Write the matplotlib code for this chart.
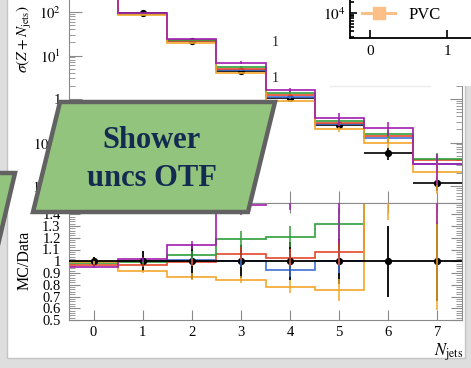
import numpy as np
import matplotlib
matplotlib.use("Agg")
import matplotlib.pyplot as plt
from matplotlib.patches import Polygon, Rectangle
from matplotlib.lines import Line2D
from matplotlib.ticker import LogLocator, NullFormatter, MultipleLocator

plt.rcParams['font.family'] = ['Liberation Serif', 'DejaVu Serif']
plt.rcParams['mathtext.fontset'] = 'stix'

# ---------------- data ----------------
njets = np.arange(8)
data = np.array([420, 97, 21, 4.5, 1.05, 0.25, 0.058, 0.0115])
data_err_rel = np.array([0.04, 0.085, 0.15, 0.14, 0.16, 0.19, 0.30, 0.34])

series_colors = {"purple": "#a21caf", "green": "#2f9e3a", "red": "#e5482b",
                 "blue": "#3f6fd8", "orange": "#f4a52a"}

mc_purple = np.array([400, 93, 23.5, 6.9, 1.6, 0.36, 0.22, 0.0325])
mc_green = np.array([410, 91, 22.4, 5.5, 1.39, 0.32, 0.153, 0.042])
mc_red = np.array([405, 90, 21.5, 5.0, 1.24, 0.28, 0.14, 0.039])
mc_blue = np.array([412, 90, 21.0, 4.6, 1.1, 0.26, 0.13, 0.0325])
mc_orange = np.array([415, 86, 19.0, 4.0, 0.9, 0.20, 0.10, 0.021])

r_purple = np.array([0.955, 1.015, 1.135, 1.48, 1.6, 1.7, 4.0, 4.0])
r_green = np.array([0.985, 0.99, 1.055, 1.19, 1.21, 1.32, 2.8, 3.8])
r_red = np.array([0.97, 0.965, 0.99, 1.064, 1.03, 1.075, 2.5, 3.5])
r_blue = np.array([0.99, 1.0, 1.01, 1.0, 0.927, 1.0, 2.4, 3.0])
r_orange = np.array([0.99, 0.913, 0.87, 0.842, 0.785, 0.756, 1.8, 1.9])

err_purple = np.array([0.01, 0.02, 0.03, 0.06, 0.10, 0.32, 0.35, 0.67])
err_green = np.array([0.01, 0.015, 0.03, 0.06, 0.075, 0.10, 0.25, 0.4])
err_red = np.array([0.01, 0.015, 0.03, 0.05, 0.07, 0.10, 0.25, 0.4])
err_blue = np.array([0.01, 0.015, 0.03, 0.05, 0.07, 0.10, 0.25, 0.4])
err_orange = np.array([0.01, 0.015, 0.03, 0.035, 0.075, 0.12, 0.25, 0.69])

mc_vals = {"purple": mc_purple, "green": mc_green, "red": mc_red,
           "blue": mc_blue, "orange": mc_orange}
ratio_vals = {"purple": r_purple, "green": r_green, "red": r_red,
              "blue": r_blue, "orange": r_orange}
mc_errs = {"purple": err_purple, "green": err_green, "red": err_red,
           "blue": err_blue, "orange": err_orange}
draw_order = ["blue", "red", "green", "orange", "purple"]

upper_ticks = [1e-2, 1e-1, 1, 1e1, 1e2]
upper_ticklabels = [r"$10^{-2}$", r"$10^{-1}$", "1", r"$10^{1}$", r"$10^{2}$"]
ratio_ticks = [0.5, 0.6, 0.7, 0.8, 0.9, 1.0, 1.1, 1.2, 1.3, 1.4, 1.5]
ratio_ticklabels = ["0.5", "0.6", "0.7", "0.8", "0.9", "1", "1.1", "1.2", "1.3", "1.4", "1.5"]
box_lines = ["Shower", "uncs OTF"]
legend_label = "PVC"

# ---------------- layout helpers ----------------
W, H = 471, 368
fig = plt.figure(figsize=(W / 100, H / 100), dpi=100)
fig.patch.set_facecolor("#dedede")

def fx(x):
    return x / W

def fy(y):
    return 1 - y / H

# background card
bg = fig.add_axes([0, 0, 1, 1], zorder=0)
bg.set_xlim(0, W); bg.set_ylim(H, 0); bg.axis("off")
bg.add_patch(Rectangle((7, -20), 458, 378, facecolor="white", edgecolor="#c4c4c4", lw=1.0))

edges = np.append(njets - 0.5, njets[-1] + 0.5)
gray = "#8a8a8a"

# ---------------- upper panel ----------------
dec = 43.5
ax = fig.add_axes([fx(69), fy(202.5), (462 - 69) / W, (202.5 + 30) / H], zorder=2)
ax.set_yscale("log")
ax.set_xlim(-0.5, 7.5)
ax.set_ylim(10 ** (2 - (202.5 - 12) / dec), 10 ** (2 + 42 / dec))
ax.errorbar(njets, data, xerr=0.5, yerr=data * data_err_rel, fmt="o", color="black",
            ms=4.2, lw=1.2, capsize=0, zorder=2.5)
for name in draw_order:
    c = series_colors[name]
    ax.stairs(mc_vals[name], edges, baseline=None, color=c, lw=1.2, zorder=3)
    v, e = mc_vals[name], mc_errs[name]
    ax.vlines(njets, v * np.clip(1 - e, 0.05, None), v * (1 + e), color=c, lw=1.1, zorder=3.5)
ax.set_yticks(upper_ticks)
ax.set_yticklabels(upper_ticklabels, fontsize=10.5)
ax.yaxis.set_minor_locator(LogLocator(base=10, subs=np.arange(2, 10)))
ax.yaxis.set_minor_formatter(NullFormatter())
ax.set_xticks(njets)
ax.tick_params(axis="x", labelbottom=False)
ax.tick_params(which="both", direction="in", top=True, right=True, color=gray)
ax.tick_params(axis="y", which="major", length=9, pad=6)
ax.tick_params(axis="y", which="minor", length=4.5)
ax.tick_params(axis="x", which="major", length=9)
for s in ax.spines.values():
    s.set_color(gray)

# ---------------- ratio panel ----------------
rx = fig.add_axes([fx(69), fy(320), (462 - 69) / W, (320 - 202.5) / H], zorder=2)
rx.set_xlim(-0.5, 7.5)
rx.set_ylim(0.5, 1.5)
for name in draw_order:
    rx.stairs(ratio_vals[name], edges, baseline=None, color=series_colors[name], lw=1.2, zorder=2)
rx.errorbar(njets, np.ones_like(data), xerr=0.5, yerr=data_err_rel, fmt="o", color="black",
            ms=4.2, lw=1.3, capsize=0, zorder=3)
for name in draw_order:
    r, e = ratio_vals[name], mc_errs[name]
    rx.vlines(njets, r * (1 - e), r * (1 + e), color=series_colors[name], lw=1.1, zorder=4)
rx.set_yticks(ratio_ticks)
rx.set_yticklabels(ratio_ticklabels, fontsize=10.5)
rx.yaxis.set_minor_locator(MultipleLocator(0.02))
rx.set_xticks(njets)
rx.set_xticklabels([str(n) for n in njets], fontsize=10.5)
rx.tick_params(which="both", direction="in", top=True, right=True, color=gray)
rx.tick_params(axis="y", which="major", length=8, pad=6)
rx.tick_params(axis="y", which="minor", length=4)
rx.tick_params(axis="x", which="major", length=7, pad=4)
for s in rx.spines.values():
    s.set_color(gray)

fig.text(fx(25), fy(260), "MC/Data", rotation=90, ha="center", va="center", fontsize=11.5)
fig.text(fx(463), fy(352), r"$N_{\mathrm{jets}}$", ha="right", va="center", fontsize=12)
fig.text(fx(25), fy(73), r"$\sigma(Z + N_{\mathrm{jets}})$", rotation=90,
         ha="center", va="bottom", fontsize=11)

# ---------------- overlays ----------------
ov = fig.add_axes([0, 0, 1, 1], zorder=5)
ov.set_xlim(0, W); ov.set_ylim(H, 0); ov.axis("off")
ov.patch.set_alpha(0)
ov.add_patch(Rectangle((282, -5), 200, 91, facecolor="white", edgecolor="none"))
ov.plot([330, 430], [86, 86], color="#ececec", lw=1)
ov.text(275, 42, "1", fontsize=10, ha="center", va="center", color="#222222")
ov.text(275, 78, "1", fontsize=10, ha="center", va="center", color="#222222")

green_fill = "#93c47d"
border = "#626262"
ov.add_patch(Polygon([(60, 102), (275, 102), (248, 212), (33, 212)], closed=True,
                     facecolor=green_fill, edgecolor=border, lw=3.2, joinstyle="miter"))
ov.add_patch(Polygon([(-40, 173), (15, 173), (-2, 245), (-40, 245)], closed=True,
                     facecolor=green_fill, edgecolor=border, lw=3.2, joinstyle="miter"))
ov.text(152, 141, box_lines[0], fontsize=22, fontweight="bold", color="#132b50",
        ha="center", va="center")
ov.text(152, 179, box_lines[1], fontsize=22, fontweight="bold", color="#132b50",
        ha="center", va="center")

# ---------------- inset ----------------
ins = fig.add_axes([fx(350), fy(38), (490 - 350) / W, (38 + 20) / H], zorder=6)
ins.patch.set_alpha(0)
ins.set_yscale("log")
idec = 35
ins.set_xlim(-20 / 77, 120 / 77)
ins.set_ylim(10 ** (4 - 25 / idec), 10 ** (4 + 33 / idec))
ins.set_xticks([0, 1])
ins.set_xticklabels(["0", "1"], fontsize=11)
ins.set_yticks([1e4])
ins.set_yticklabels([r"$10^{4}$"], fontsize=11)
ins.yaxis.set_minor_locator(LogLocator(base=10, subs=np.arange(2, 10)))
ins.yaxis.set_minor_formatter(NullFormatter())
ins.tick_params(which="both", direction="in", color="black", width=1.2)
ins.tick_params(axis="x", length=6, pad=5)
ins.tick_params(axis="y", which="major", length=5, pad=3)
ins.tick_params(axis="y", which="minor", length=3)
for k in ["top", "right"]:
    ins.spines[k].set_visible(False)
for k in ["left", "bottom"]:
    ins.spines[k].set_color("black")
    ins.spines[k].set_linewidth(1.3)
handle = Line2D([], [], color="#fdbf88", marker="s", markersize=8.5, lw=2.2)
ins.legend([handle], [legend_label], loc="center left", bbox_to_anchor=(fx(362), fy(15)),
           bbox_transform=fig.transFigure, frameon=False, fontsize=12, handlelength=2.0,
           handletextpad=0.8, borderpad=0, borderaxespad=0)

fig.savefig("out.png", dpi=100, facecolor=fig.get_facecolor())
